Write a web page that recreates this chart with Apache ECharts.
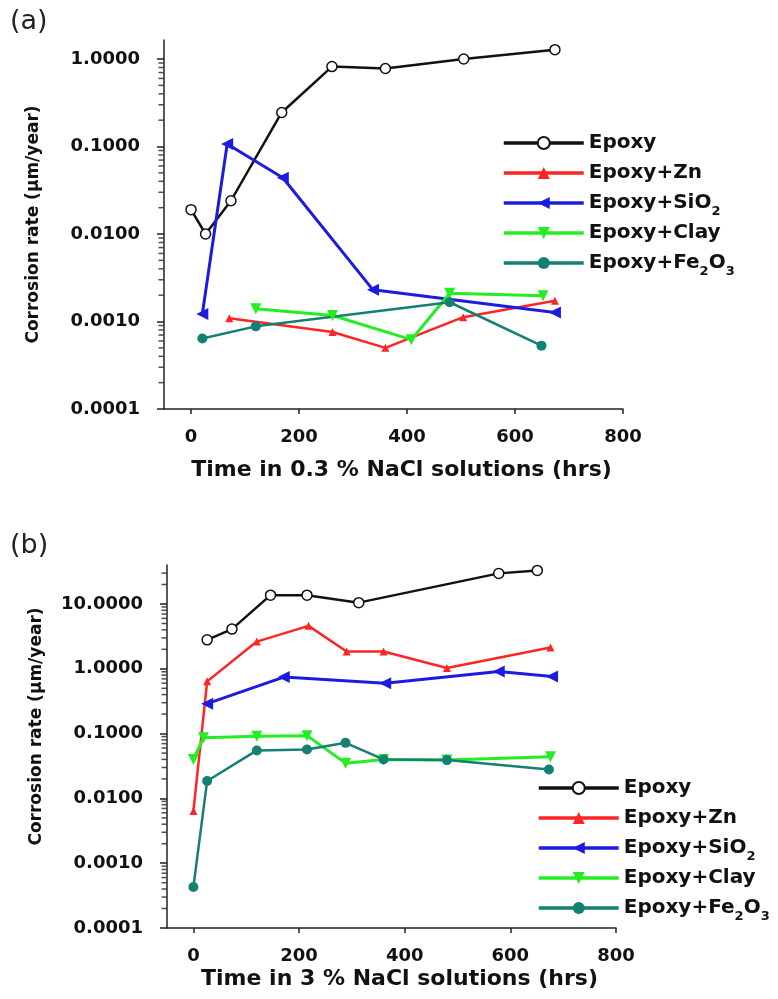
<!DOCTYPE html>
<html>
<head>
<meta charset="utf-8">
<script src="https://cdn.jsdelivr.net/npm/echarts@6/dist/echarts.min.js"></script>
<style>
html, body { margin: 0; padding: 0; background: #fff; }
#chart { width: 778px; height: 999px; }
</style>
</head>
<body>
<div id="chart"></div>
<script>
// tick labels of the time axis (hrs)
var xTicks = [0, 200, 400, 600, 800];
// log minor tick steps inside each decade
var minorSteps = [2, 3, 4, 5, 6, 7, 8, 9];

// (a) 0.3 % NaCl
var aEpoxyX = [0, 27, 74, 168, 261, 360, 505, 674];
var aEpoxyY = [0.019, 0.010, 0.024, 0.245, 0.82, 0.78, 1.0, 1.28];
var aZnX = [71, 262, 360, 504, 674];
var aZnY = [0.00109, 0.00076, 0.0005, 0.00112, 0.00173];
var aSiO2X = [21, 67, 170, 337, 674];
var aSiO2Y = [0.00122, 0.107, 0.044, 0.0023, 0.00127];
var aClayX = [120, 262, 408, 479, 652];
var aClayY = [0.0014, 0.00117, 0.00062, 0.0021, 0.00197];
var aFeX = [21, 120, 479, 649];
var aFeY = [0.00064, 0.00088, 0.00166, 0.00053];

// (b) 3 % NaCl
var bEpoxyX = [26, 73, 146, 215, 313, 578, 651];
var bEpoxyY = [2.8, 4.1, 13.7, 13.7, 10.5, 29.7, 33];
var bZnX = [0, 26, 120, 218, 290, 360, 480, 676];
var bZnY = [0.0064, 0.64, 2.63, 4.6, 1.85, 1.85, 1.03, 2.13];
var bSiO2X = [26, 171, 363, 578, 679];
var bSiO2Y = [0.29, 0.745, 0.6, 0.91, 0.76];
var bClayX = [0, 19, 120, 215, 288, 360, 480, 676];
var bClayY = [0.040, 0.086, 0.091, 0.093, 0.035, 0.040, 0.039, 0.044];
var bFeX = [0, 26, 120, 215, 288, 360, 480, 673];
var bFeY = [0.00043, 0.0186, 0.055, 0.057, 0.072, 0.040, 0.039, 0.028];

var names = ['Epoxy', 'Epoxy+Zn', 'Epoxy+SiO2', 'Epoxy+Clay', 'Epoxy+Fe2O3'];

var FONT = 'DejaVu Sans';
var AXC = '#222';
var XMIN = -50;

function pairs(xs, ys) {
	var out = [];
	for (var i = 0; i < xs.length; i++) out.push([xs[i], ys[i]]);
	return out;
}

// minor ticks of the log axis, placed on the axis line at x = XMIN
function minorTickData(lo, hi, max) {
	var t = [];
	for (var n = lo; n <= hi; n++) {
		minorSteps.forEach(function (k) {
			var v = Number((k * Math.pow(10, n)).toPrecision(3));
			if (v < max) t.push([XMIN, v]);
		});
	}
	return t;
}

var styles = {
	'Epoxy': { color: '#111', symbol: 'circle', size: 10, rot: 0, lw: 2.5, fill: '#fff' },
	'Epoxy+Zn': { color: '#ff2424', symbol: 'triangle', size: 8, rot: 0, lw: 2.5 },
	'Epoxy+SiO2': { color: '#1c1ce0', symbol: 'triangle', size: 12, rot: 90, lw: 3 },
	'Epoxy+Clay': { color: '#22ee22', symbol: 'triangle', size: 11, rot: 180, lw: 3 },
	'Epoxy+Fe2O3': { color: '#138073', symbol: 'circle', size: 10, rot: 0, lw: 2.5 }
};

function mk(name, xs, ys, gi) {
	var s = styles[name];
	return {
		name: name,
		type: 'line',
		xAxisIndex: gi,
		yAxisIndex: gi,
		data: pairs(xs, ys),
		symbol: s.symbol,
		symbolSize: s.size,
		symbolRotate: s.rot,
		showAllSymbol: true,
		lineStyle: { color: s.color, width: s.lw },
		itemStyle: s.fill ? { color: s.fill, borderColor: s.color, borderWidth: 1.5 } : { color: s.color },
		emphasis: { disabled: true },
		animation: false,
		z: 3
	};
}

function minorSeries(gi, lo, hi, max) {
	return {
		type: 'scatter', xAxisIndex: gi, yAxisIndex: gi,
		data: minorTickData(lo, hi, max),
		symbol: 'rect', symbolSize: [5, 1.5], symbolOffset: [-3, 0],
		itemStyle: { color: AXC },
		clip: false, silent: true, animation: false, z: 1
	};
}

function xAxis(gi, title, gap) {
	return {
		type: 'value', gridIndex: gi, min: XMIN, max: 800,
		axisLine: { onZero: false, lineStyle: { color: AXC, width: 1.5 } },
		axisTick: { customValues: xTicks, length: 5, lineStyle: { color: AXC, width: 1.5 } },
		axisLabel: { customValues: xTicks, fontFamily: FONT, fontWeight: 'bold', fontSize: 18, color: '#111', margin: 12, padding: [7, 0, 0, 0] },
		splitLine: { show: false },
		name: title, nameLocation: 'middle', nameGap: gap,
		nameTextStyle: { fontFamily: FONT, fontWeight: 'bold', fontSize: 22, color: '#111', padding: [0, 0, 0, 16] }
	};
}

function yAxis(gi, min, max, namePad) {
	return {
		type: 'log', gridIndex: gi, logBase: 10, min: min, max: max, position: 'left',
		axisLine: { onZero: false, lineStyle: { color: AXC, width: 1.5 } },
		axisTick: { length: 7, lineStyle: { color: AXC, width: 1.5 } },
		axisLabel: {
			showMaxLabel: false, fontFamily: FONT, fontWeight: 'bold', fontSize: 18, color: '#111', margin: 24,
			formatter: function (v) { return v.toFixed(4); }
		},
		splitLine: { show: false },
		name: 'Corrosion rate (µm/year)', nameLocation: 'middle', nameGap: 122,
		nameTextStyle: { fontFamily: FONT, fontWeight: 'bold', fontSize: 17, color: '#111', padding: namePad }
	};
}

function legend(left, top) {
	return {
		orient: 'vertical', left: left, top: top,
		data: names, itemWidth: 80, itemHeight: 15, itemGap: 0,
		selectedMode: false,
		lineStyle: { width: 3.5 },
		formatter: function (n) {
			return n.replace('SiO2', 'SiO{s|2}').replace('Fe2O3', 'Fe{s|2}O{s|3}');
		},
		textStyle: {
			fontFamily: FONT, fontWeight: 'bold', fontSize: 20, color: '#111', lineHeight: 30,
			rich: { s: { fontFamily: FONT, fontWeight: 'bold', fontSize: 13, lineHeight: 13, verticalAlign: 'bottom', color: '#111' } }
		}
	};
}

var series = [];
series.push(mk('Epoxy', aEpoxyX, aEpoxyY, 0));
series.push(mk('Epoxy+Zn', aZnX, aZnY, 0));
series.push(mk('Epoxy+SiO2', aSiO2X, aSiO2Y, 0));
series.push(mk('Epoxy+Clay', aClayX, aClayY, 0));
series.push(mk('Epoxy+Fe2O3', aFeX, aFeY, 0));
series.push(mk('Epoxy', bEpoxyX, bEpoxyY, 1));
series.push(mk('Epoxy+Zn', bZnX, bZnY, 1));
series.push(mk('Epoxy+SiO2', bSiO2X, bSiO2Y, 1));
series.push(mk('Epoxy+Clay', bClayX, bClayY, 1));
series.push(mk('Epoxy+Fe2O3', bFeX, bFeY, 1));
series.push(minorSeries(0, -4, 0, 1.65));
series.push(minorSeries(1, -4, 1, 40));

var myChart = echarts.init(document.getElementById('chart'), null, { renderer: 'canvas' });
var option = {
	backgroundColor: '#fff',
	animation: false,
	grid: [
		{ left: 164, width: 459, top: 40, height: 369, outerBoundsMode: 'none' },
		{ left: 167, width: 449, top: 565, height: 363, outerBoundsMode: 'none' }
	],
	xAxis: [xAxis(0, 'Time in 0.3 % NaCl solutions (hrs)', 50), xAxis(1, 'Time in 3 % NaCl solutions (hrs)', 40)],
	yAxis: [yAxis(0, 0.0001, 1.65, 0), yAxis(1, 0.0001, 40, [0, 0, 0, 40])],
	legend: [legend(497, 123), legend(532, 768)],
	graphic: [
		{ type: 'text', left: 10, top: 8, style: { text: '(a)', font: '27px "DejaVu Sans"', fill: '#222' } },
		{ type: 'text', left: 10, top: 532, style: { text: '(b)', font: '27px "DejaVu Sans"', fill: '#222' } }
	],
	series: series
};
myChart.setOption(option);
</script>
</body>
</html>
